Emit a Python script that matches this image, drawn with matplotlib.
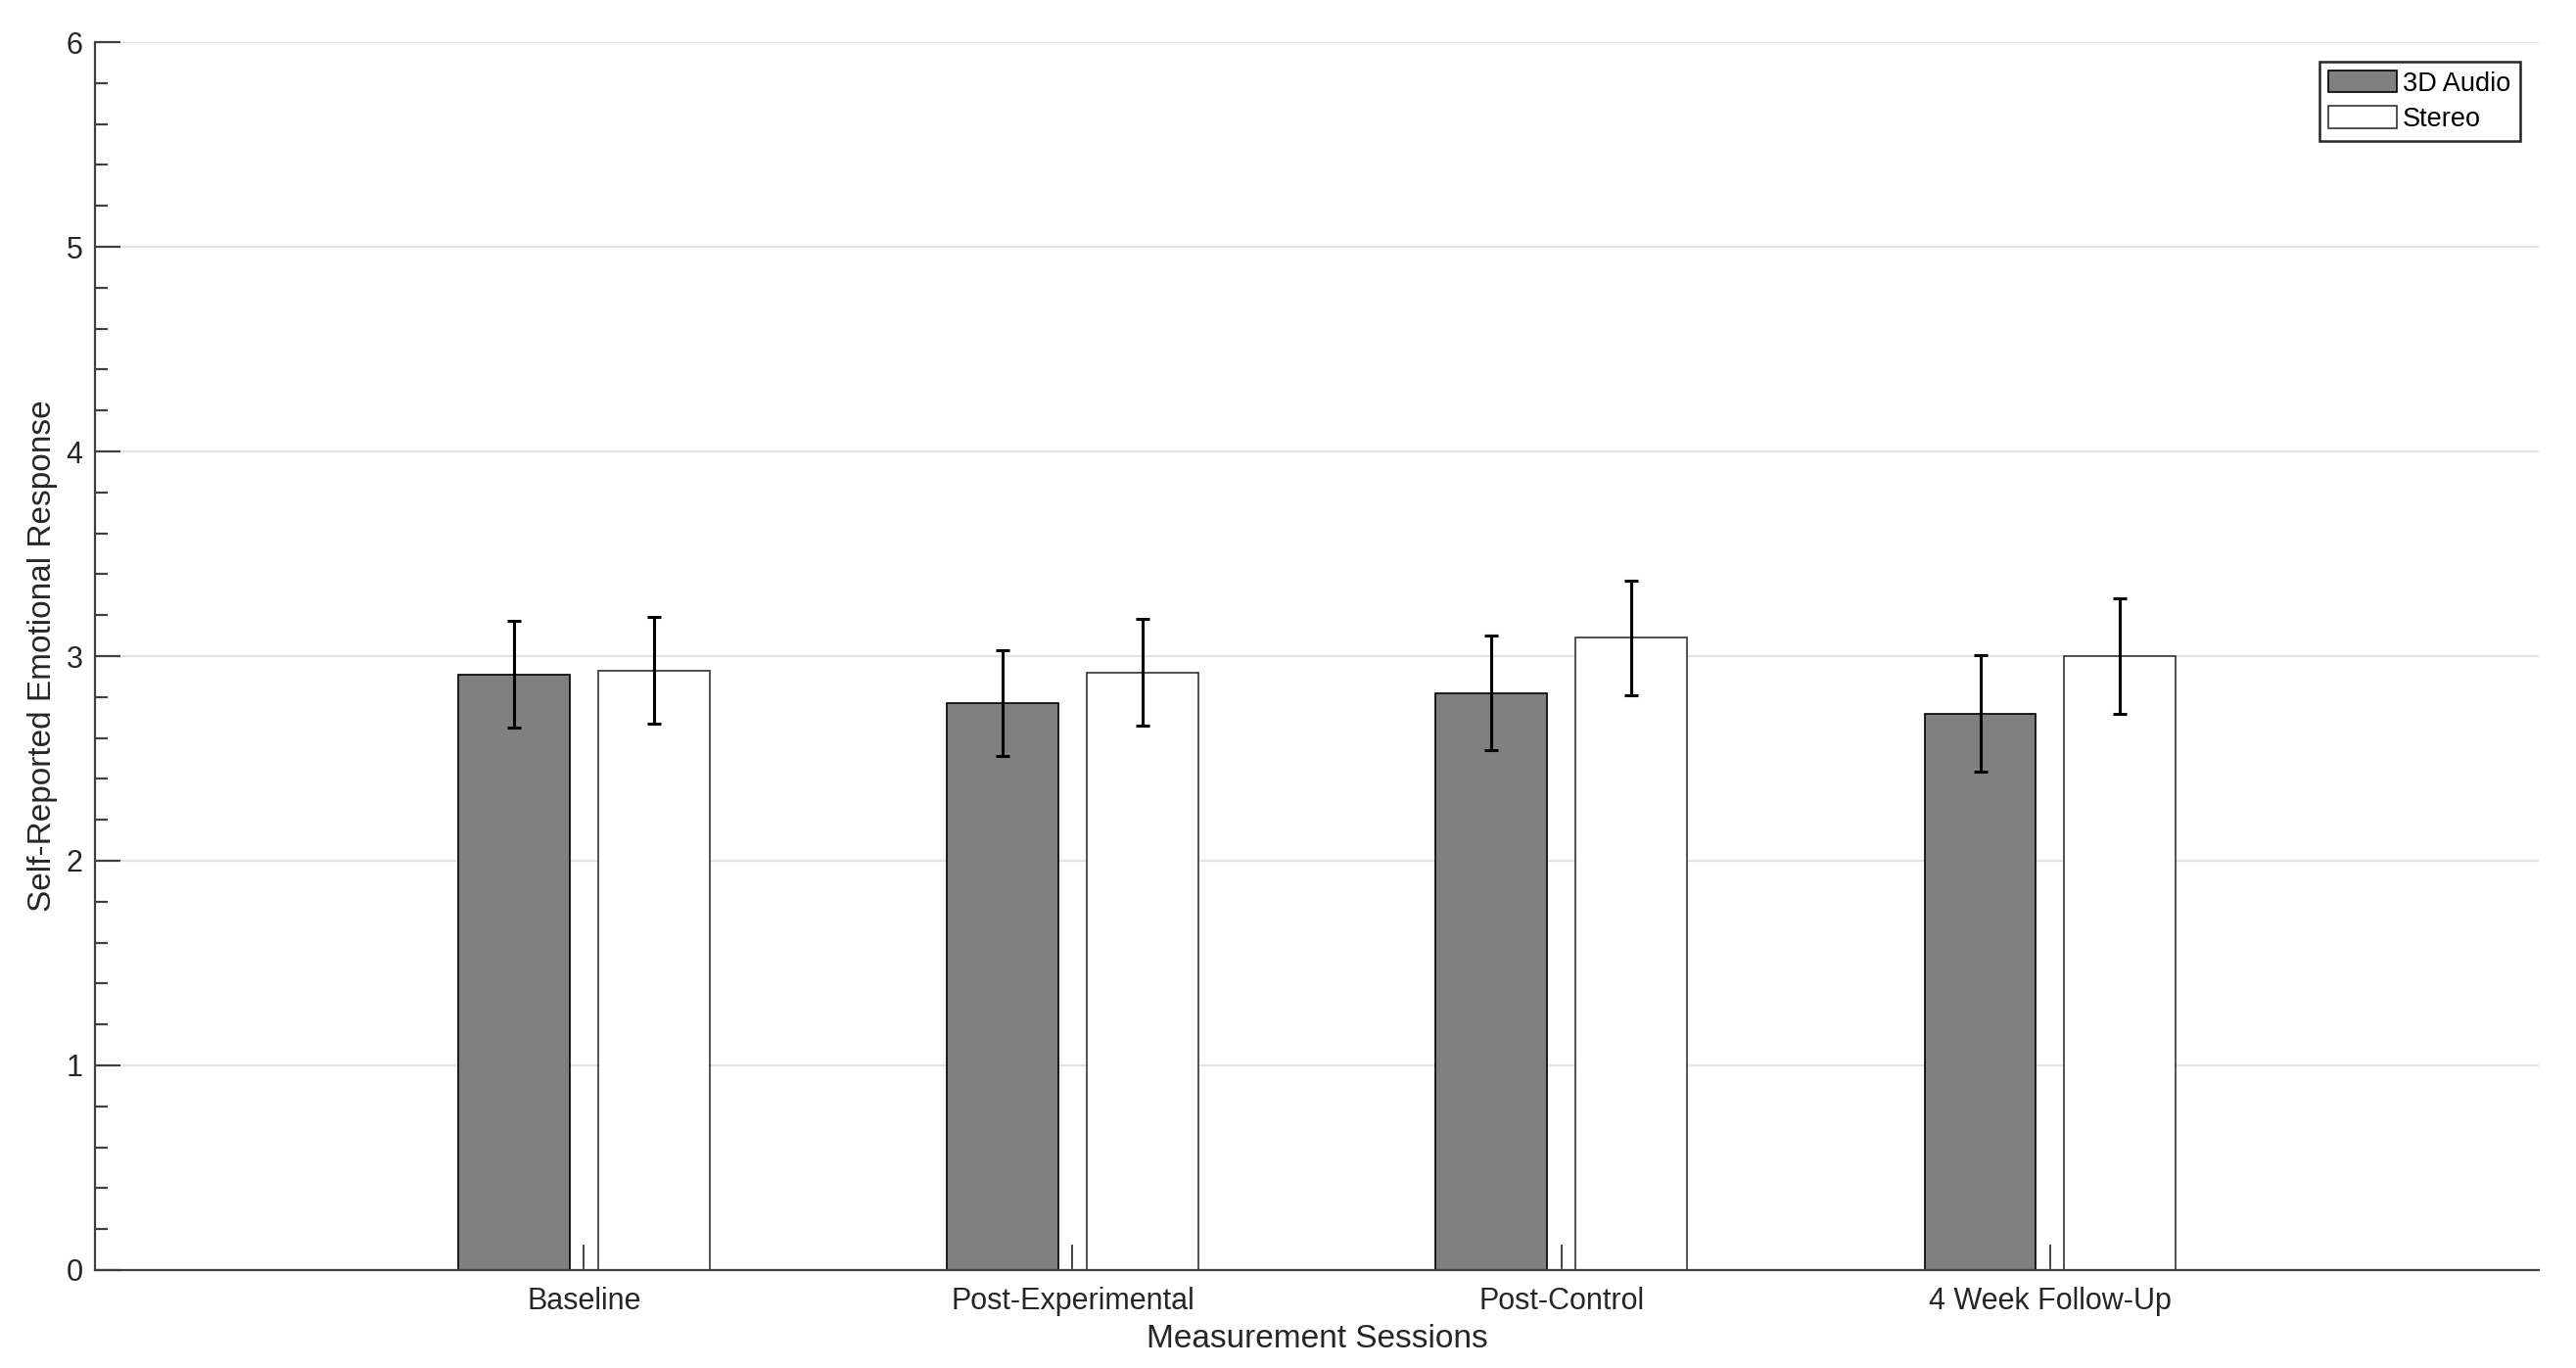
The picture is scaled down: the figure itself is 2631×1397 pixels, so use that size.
import numpy as np
import matplotlib
matplotlib.use('Agg')
import matplotlib.pyplot as plt
from matplotlib.ticker import MultipleLocator

plt.rcParams['font.family'] = ['Liberation Sans', 'DejaVu Sans']

# Values
sessions = ['Baseline', 'Post-Experimental', 'Post-Control', '4 Week Follow-Up']
audio_3d = [2.91, 2.77, 2.82, 2.72]
audio_3d_err = [0.26, 0.26, 0.28, 0.285]
stereo = [2.93, 2.92, 3.09, 3.00]
stereo_err = [0.26, 0.26, 0.28, 0.283]

x = np.arange(1, len(sessions) + 1)
offset = 0.143
width = 0.228

fig = plt.figure(figsize=(26.31, 13.97), dpi=100)
ax = fig.add_axes([0.0369, 0.0716, 0.9487, 0.8976])

ax.bar(x - offset, audio_3d, width, color='#808080', edgecolor='black',
       linewidth=1.2, label='3D Audio', zorder=2)
ax.bar(x + offset, stereo, width, color='white', edgecolor='#333333',
       linewidth=1.2, label='Stereo', zorder=2)

ax.errorbar(x - offset, audio_3d, yerr=audio_3d_err, fmt='none', ecolor='black',
            elinewidth=2.2, capsize=5, capthick=2.2, zorder=3)
ax.errorbar(x + offset, stereo, yerr=stereo_err, fmt='none', ecolor='black',
            elinewidth=2.2, capsize=5, capthick=2.2, zorder=3)

ax.set_xlim(0, 5)
ax.set_ylim(0, 6)
ax.set_xticks(x)
ax.set_xticklabels(sessions)
ax.yaxis.set_major_locator(MultipleLocator(1))
ax.yaxis.set_minor_locator(MultipleLocator(0.2))

ax.yaxis.grid(True, which='major', color='#e3e3e3', linewidth=1.6, zorder=0)
ax.set_axisbelow(True)

for side in ['top', 'right']:
    ax.spines[side].set_visible(False)
for side in ['left', 'bottom']:
    ax.spines[side].set_color('#404040')
    ax.spines[side].set_linewidth(1.6)

ax.tick_params(axis='y', which='major', direction='in', length=19, width=1.6,
               color='#404040', labelsize=22, labelcolor='#262626', pad=9)
ax.tick_params(axis='y', which='minor', direction='in', length=9.5, width=1.6,
               color='#404040')
ax.tick_params(axis='x', which='major', direction='in', length=19, width=1.2,
               color='#262626', labelsize=22, labelcolor='#262626', pad=12)

ax.set_xlabel('Measurement Sessions', fontsize=24, color='#262626', labelpad=6)
ax.set_ylabel('Self-Reported Emotional Response', fontsize=24, color='#262626', labelpad=6)

leg = ax.legend(loc='upper right', fontsize=19.5, fancybox=False, framealpha=1,
                edgecolor='#262626', handlelength=2.6, handleheight=0.9,
                handletextpad=0.2, labelspacing=0.35, borderpad=0.35,
                borderaxespad=0.72)
leg.get_frame().set_linewidth(1.8)

fig.savefig('out.png', dpi=100)
